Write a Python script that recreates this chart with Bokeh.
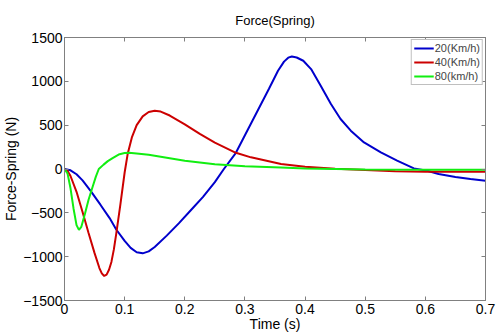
from bokeh.plotting import figure
from bokeh.models import LinearAxis, FixedTicker, Legend, LegendItem, CustomLabelingPolicy
from bokeh.embed import file_html
from bokeh.resources import INLINE

# ---- data ----
t_blue = [0.000, 0.010, 0.020, 0.030, 0.044, 0.060, 0.075, 0.086, 0.100, 0.110,
          0.120, 0.130, 0.140, 0.150, 0.170, 0.190, 0.210, 0.230, 0.250, 0.265,
          0.285, 0.300, 0.320, 0.340, 0.355, 0.365, 0.372, 0.378, 0.386, 0.397,
          0.410, 0.426, 0.443, 0.459, 0.476, 0.498, 0.526, 0.553, 0.581, 0.603,
          0.622, 0.650, 0.675, 0.700]
f_blue = [0, -15, -60, -130, -255, -410, -560, -690, -820, -900,
          -950, -962, -940, -890, -760, -620, -470, -320, -150, 0,
          185, 385, 650, 915, 1120, 1225, 1270, 1283, 1272, 1235,
          1140, 950, 741, 570, 437, 303, 190, 95, 7, -20,
          -57, -90, -115, -133]

t_red = [0.000, 0.005, 0.010, 0.020, 0.030, 0.040, 0.050, 0.058, 0.062, 0.066,
         0.070, 0.074, 0.078, 0.082, 0.086, 0.093, 0.100, 0.105, 0.112, 0.120,
         0.130, 0.140, 0.150, 0.160, 0.175, 0.200, 0.225, 0.250, 0.285, 0.310,
         0.360, 0.400, 0.450, 0.500, 0.550, 0.600, 0.700]
f_red = [0, -20, -80, -260, -490, -730, -960, -1130, -1190, -1220,
         -1205, -1150, -1060, -920, -740, -400, -40, 170, 360, 500,
         600, 650, 665, 655, 610, 510, 400, 300, 185, 133,
         57, 25, 3, -10, -25, -32, -30]

t_green = [0.000, 0.005, 0.010, 0.015, 0.020, 0.024, 0.028, 0.034, 0.040, 0.046,
           0.052, 0.057, 0.065, 0.072, 0.080, 0.090, 0.100, 0.107, 0.120, 0.140,
           0.160, 0.200, 0.250, 0.300, 0.360, 0.400, 0.500, 0.600, 0.700]
f_green = [0, -50, -220, -450, -640, -695, -660, -510, -350, -220,
           -90, 0, 50, 90, 125, 165, 182, 185, 178, 162,
           140, 95, 55, 30, 18, 5, -5, -8, -8]

series_labels = ["20(Km/h)", "40(Km/h)", "80(km/h)"]
x_ticks = [0, 0.1, 0.2, 0.3, 0.4, 0.5, 0.6, 0.7]
y_ticks = [-1500, -1000, -500, 0, 500, 1000, 1500]
x_label = "Time (s)"
y_label = "Force-Spring (N)"

FONT = "Liberation Sans"
GRAY = "#808080"

p = figure(width=497, height=334, x_range=(0, 0.7), y_range=(-1500, 1500),
           output_backend="svg", toolbar_location=None,
           min_border_left=63, min_border_right=12, min_border_top=37, min_border_bottom=34)

p.title.text = "Force(Spring)"
p.title.align = "center"
p.title.text_font = FONT
p.title.text_font_size = "13px"
p.title.text_font_style = "normal"
p.title.text_color = "#000000"
p.title.standoff = 12

p.xgrid.visible = False
p.ygrid.visible = False
p.outline_line_color = GRAY

def style_axis(ax, ticks):
    ax.ticker = FixedTicker(ticks=ticks)
    ax.axis_line_color = GRAY
    ax.major_tick_line_color = GRAY
    ax.major_tick_in = 4
    ax.major_tick_out = 0
    ax.minor_tick_line_color = None
    ax.major_label_text_font = FONT
    ax.major_label_text_font_size = "14px"
    ax.major_label_text_color = "#000000"
    ax.axis_label_text_font = FONT
    ax.axis_label_text_font_size = "14px"
    ax.axis_label_text_font_style = "normal"
    ax.axis_label_text_color = "#000000"

xa = p.xaxis[0]
style_axis(xa, x_ticks)
xa.axis_label = x_label
xa.major_label_standoff = 3
xa.axis_label_standoff = -1
xa.major_label_overrides = {0: "0"}

ya = p.yaxis[0]
style_axis(ya, y_ticks)
ya.axis_label = y_label
ya.major_label_standoff = 2
ya.axis_label_standoff = 1

no_labels = CustomLabelingPolicy(code="""
for (const i of Array.from(indices)) { indices.unset(i) }
return indices
""")

top = LinearAxis()
style_axis(top, x_ticks)
top.major_label_text_font_size = "1px"
top.major_label_standoff = 0
top.major_label_policy = no_labels
p.add_layout(top, "above")

right = LinearAxis()
style_axis(right, y_ticks)
right.major_label_text_font_size = "1px"
right.major_label_standoff = 0
right.major_label_policy = no_labels
p.add_layout(right, "right")

r1 = p.line(t_blue, f_blue, line_color="#0000cc", line_width=2)
r2 = p.line(t_red, f_red, line_color="#cc0000", line_width=2)
r3 = p.line(t_green, f_green, line_color="#11ee11", line_width=2)

legend = Legend(items=[LegendItem(label=series_labels[0], renderers=[r1]),
                       LegendItem(label=series_labels[1], renderers=[r2]),
                       LegendItem(label=series_labels[2], renderers=[r3])],
                location="top_right")
legend.label_text_font = FONT
legend.label_text_font_size = "11px"
legend.label_height = 12
legend.glyph_height = 12
legend.glyph_width = 20
legend.label_standoff = 1
legend.spacing = 2
legend.padding = 2
legend.margin = 2
legend.border_line_color = GRAY
legend.border_line_width = 1
legend.background_fill_alpha = 1
p.add_layout(legend)

open("out.html", "w").write(file_html(p, INLINE))
